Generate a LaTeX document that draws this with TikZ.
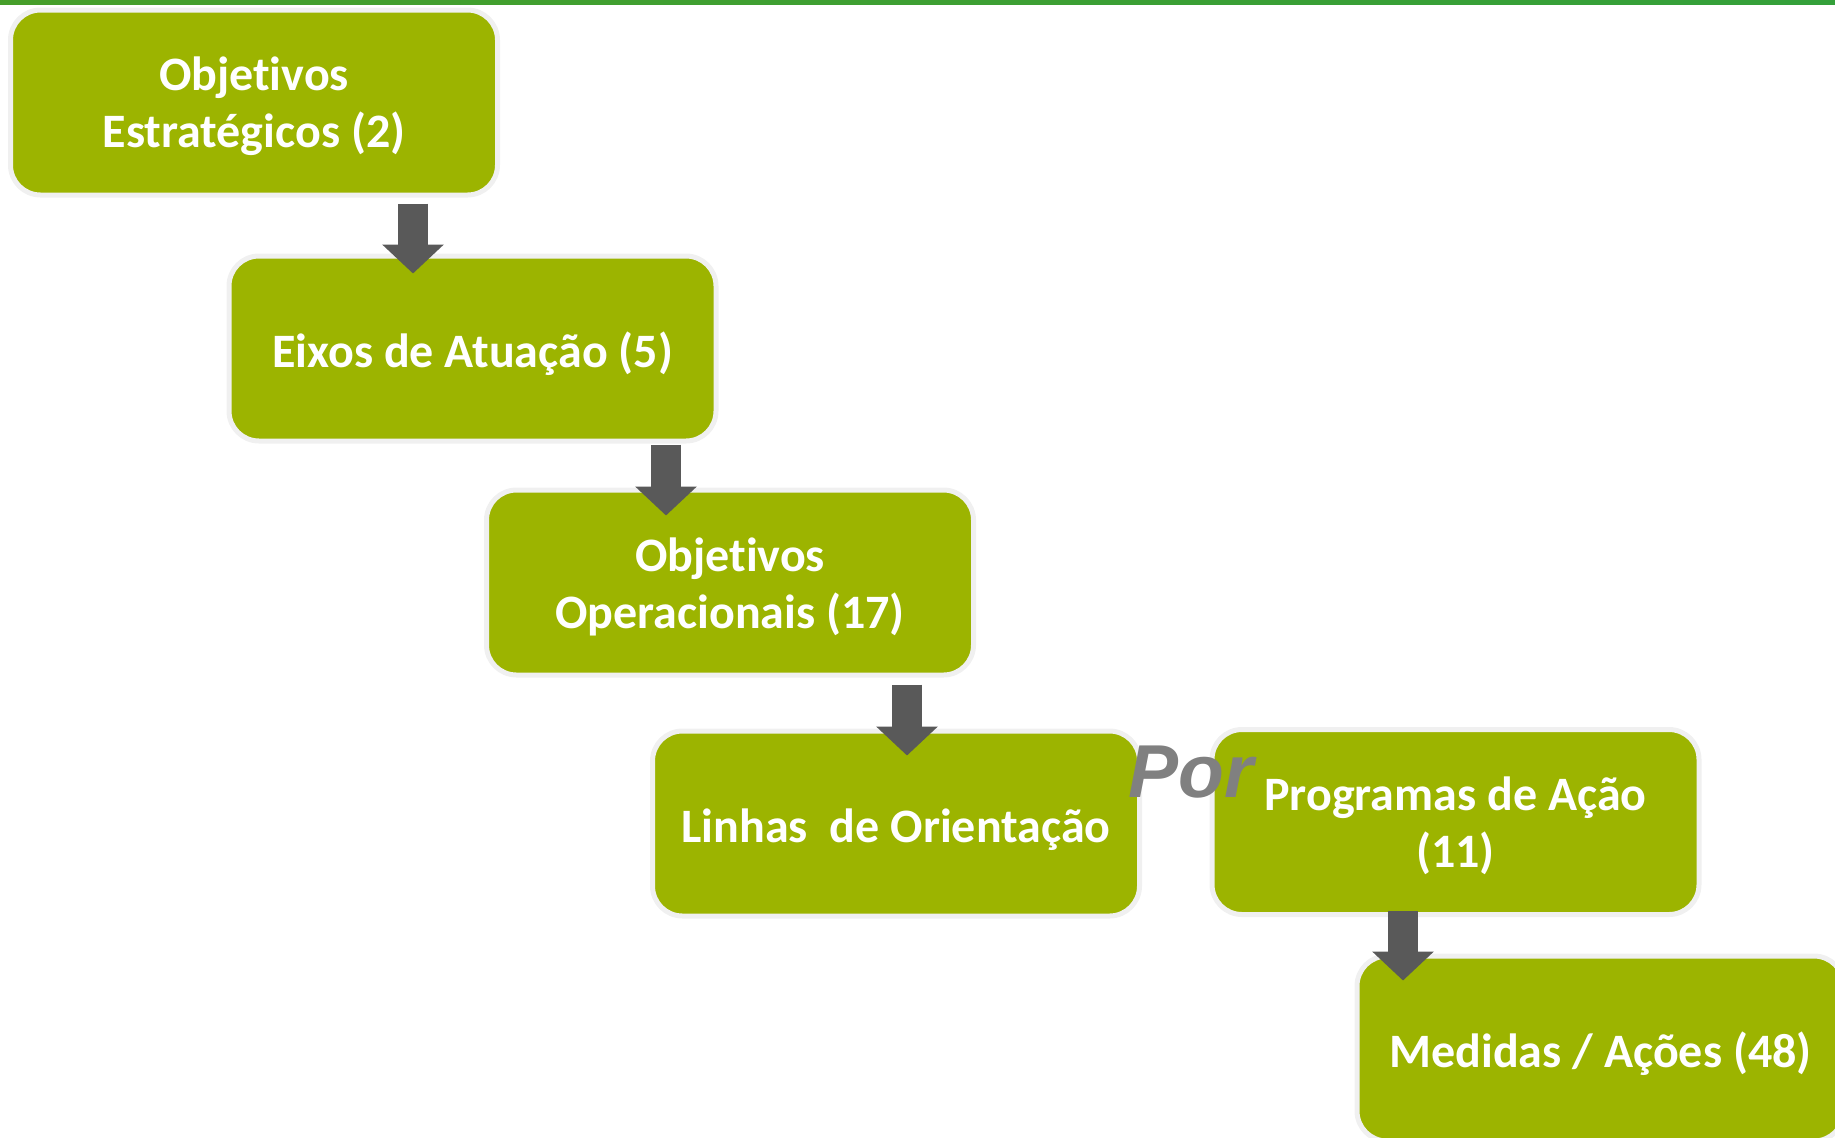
\documentclass[tikz,border=0pt]{standalone}
\usepackage{fontspec}
\setmainfont{Carlito}[Ligatures=NoCommon]
\newfontfamily\porfont{Liberation Sans}
\usetikzlibrary{arrows.meta, calc}
\definecolor{boxgreen}{RGB}{156,180,0}
\definecolor{boxrim}{RGB}{240,240,240}
\definecolor{arrowgray}{RGB}{89,89,89}
\definecolor{porgray}{RGB}{128,128,128}
\definecolor{barleft}{RGB}{70,158,42}
\definecolor{barmid}{RGB}{42,143,54}
\definecolor{barright}{RGB}{52,160,58}
\newcommand\topgap{\rule{0pt}{21pt}}

\begin{document}
\begin{tikzpicture} [x=0.5pt, y=-0.5pt,
  level/.style={draw=boxrim, line width=2.5pt, fill=boxgreen, rounded corners=15pt,
    minimum width=243.5pt, minimum height=92.5pt, align=center, text=white,
    font=\bfseries\fontsize{24}{28.5}\selectfont,
    execute at begin node=\rule{0pt}{23pt}},
  down/.style={arrowgray, line width=15pt, -{Triangle[width=30pt, length=14.5pt]}}]
\clip (0,0) rectangle (1835,1137);
\useasboundingbox (0,0) rectangle (1835,1137);
\fill[left color=barleft, middle color=barmid, right color=barright] (0,0) rectangle (1835,4);

\node[level] (estrat) at (254,102.5) {\topgap Objetivos\\Estratégicos (2)};
\node[level] (eixos) at (472.5,348.5) {Eixos de Atuação (5)};
\node[level] (operac) at (730,582.5) {\topgap Objetivos\\Operacionais (17)};
\node[level] (linhas) at (896,823.5) {Linhas\ \ de Orientação};
\node[level] (progr) at (1455.5,822) {\topgap Programas de Ação\\(11)};
\node[level] (medidas) at (1600.5,1048.5) {Medidas / Ações (48)};
\node[anchor=base west, inner sep=0pt, text=porgray, font=\porfont\bfseries\itshape\fontsize{37.5}{40}\selectfont] (por) at (1128,797) {Por};

\draw[down] ($(estrat.south)+(159,6)$) -- ($(eixos.north)+(-59.5,20)$);
\draw[down] ($(eixos.south)+(193.5,1)$) -- ($(operac.north)+(-64,28)$);
\draw[down] ($(operac.south)+(177,7)$) -- ($(linhas.north)+(11,27)$);
\draw[down] ($(progr.south)+(-52.5,-6)$) -- ($(medidas.north)+(-197.5,27)$);
\end{tikzpicture}
\end{document}
